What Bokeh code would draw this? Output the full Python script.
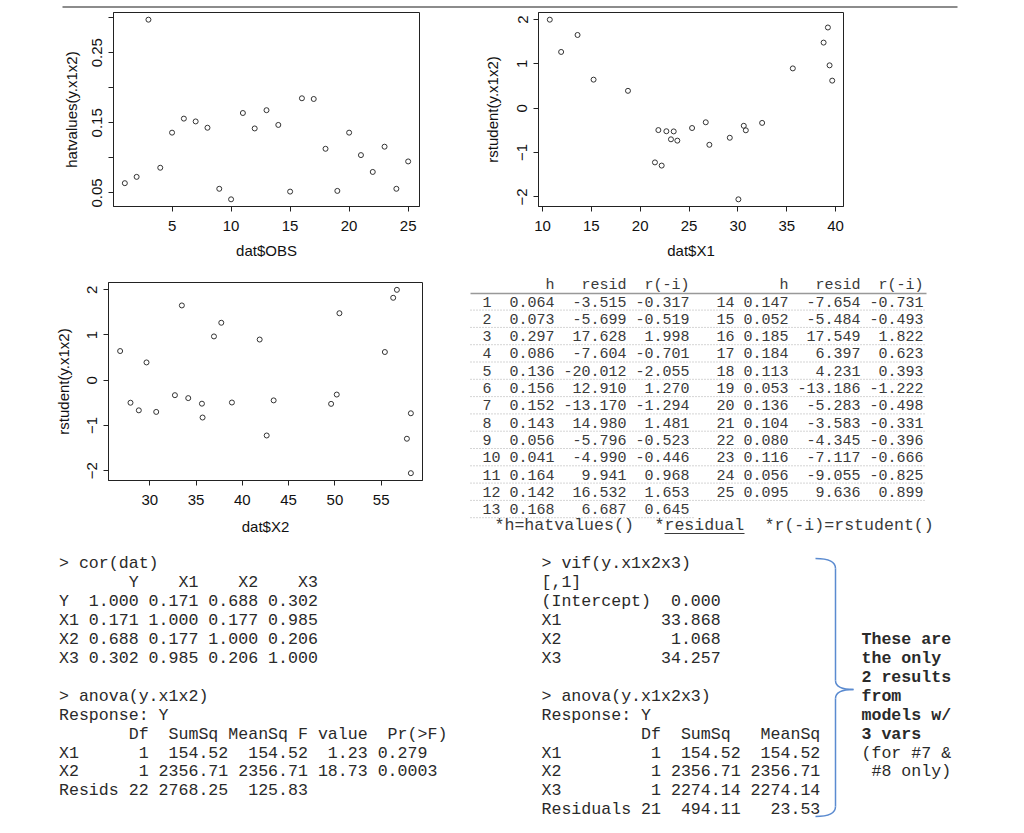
from bokeh.plotting import figure
from bokeh.layouts import column, row
from bokeh.models import Range1d, FixedTicker
from bokeh.core.properties import value
from bokeh.embed import file_html
from bokeh.resources import INLINE

# ---------------- data ----------------
obs = list(range(1, 26))
hat = [0.064, 0.073, 0.297, 0.086, 0.136, 0.156, 0.152, 0.143, 0.056, 0.041, 0.164, 0.142, 0.168,
       0.147, 0.052, 0.185, 0.184, 0.113, 0.053, 0.136, 0.104, 0.080, 0.116, 0.056, 0.095]
resid = [-3.515, -5.699, 17.628, -7.604, -20.012, 12.910, -13.170, 14.980, -5.796, -4.990, 9.941, 16.532, 6.687,
         -7.654, -5.484, 17.549, 6.397, 4.231, -13.186, -5.283, -3.583, -4.345, -7.117, -9.055, 9.636]
rstud = [-0.317, -0.519, 1.998, -0.701, -2.055, 1.270, -1.294, 1.481, -0.523, -0.446, 0.968, 1.653, 0.645,
         -0.731, -0.493, 1.822, 0.623, 0.393, -1.222, -0.498, -0.331, -0.396, -0.666, -0.825, 0.899]
x1 = [26.71, 22.68, 10.75, 23.15, 30.05, 11.91, 22.20, 38.77, 23.43, 25.31, 39.38, 13.59, 15.23,
      23.80, 21.86, 39.21, 39.65, 18.75, 21.51, 30.81, 32.48, 30.60, 29.17, 27.08, 35.62]
x2 = [50.20, 35.63, 56.70, 30.69, 58.21, 37.72, 57.78, 50.49, 49.59, 43.38, 36.93, 33.46, 26.79,
      58.21, 38.87, 56.30, 55.40, 29.64, 42.63, 27.91, 32.71, 34.15, 28.81, 35.70, 41.87]

cor_names = ["Y", "X1", "X2", "X3"]
cor_vals = [[1.000, 0.171, 0.688, 0.302],
            [0.171, 1.000, 0.177, 0.985],
            [0.688, 0.177, 1.000, 0.206],
            [0.302, 0.985, 0.206, 1.000]]

vif_names = ["(Intercept)", "X1", "X2", "X3"]
vif_vals = [0.000, 33.868, 1.068, 34.257]

a1_terms = ["X1", "X2", "Resids"]
a1_df = [1, 1, 22]
a1_ss = [154.52, 2356.71, 2768.25]
a1_ms = [154.52, 2356.71, 125.83]
a1_f = [1.23, 18.73, None]
a1_p = ["0.279", "0.0003", None]

a2_terms = ["X1", "X2", "X3", "Residuals"]
a2_df = [1, 1, 1, 21]
a2_ss = [154.52, 2356.71, 2274.14, 494.11]
a2_ms = [154.52, 2356.71, 2274.14, 23.53]

brace_bold = ["These are", "the only", "2 results", "from", "models w/", "3 vars"]
brace_norm = ["(for #7 &", " #8 only)"]

SANS = "Liberation Sans"
MONO = "Liberation Mono"


def no_align(p):
    if "frame_align" in p.properties():
        p.frame_align = False


def rrange(v):
    lo, hi = min(v), max(v)
    d = (hi - lo) * 0.04
    return lo - d, hi + d


def scatter_fig(x, y, xticks, yticks, ylab_over, xlabel, ylabel, fw, fh, bl, br, bt, bb,
                x_ls, x_as, y_ls, y_as):
    xr = rrange(x)
    yr = rrange(y)
    p = figure(frame_width=fw, frame_height=fh, min_border_left=bl, min_border_right=br,
               min_border_top=bt, min_border_bottom=bb,
               x_range=Range1d(*xr), y_range=Range1d(*yr),
               output_backend="svg", toolbar_location=None)
    no_align(p)
    p.xgrid.visible = False
    p.ygrid.visible = False
    p.outline_line_color = "#222222"
    p.outline_line_width = 1
    p.background_fill_color = "white"
    p.border_fill_color = "white"
    p.scatter(x, y, marker="circle", size=5, fill_color=None, line_color="#333333", line_width=1)
    p.xaxis.ticker = FixedTicker(ticks=xticks)
    p.yaxis.ticker = FixedTicker(ticks=yticks)
    if ylab_over:
        p.yaxis.major_label_overrides = ylab_over
    for ax in (p.xaxis[0], p.yaxis[0]):
        ax.minor_tick_line_color = None
        ax.major_tick_in = 0
        ax.major_tick_out = 5
        ax.axis_line_color = "#222222"
        ax.major_tick_line_color = "#222222"
        ax.major_label_text_font = SANS
        ax.major_label_text_font_size = "15px"
        ax.major_label_text_color = "#111111"
        ax.axis_label_text_font = SANS
        ax.axis_label_text_font_size = "15px"
        ax.axis_label_text_font_style = "normal"
        ax.axis_label_text_color = "#111111"
    p.xaxis.axis_label = xlabel
    p.yaxis.axis_label = ylabel
    p.xaxis.major_label_standoff = x_ls
    p.xaxis.axis_label_standoff = x_as
    p.yaxis.major_label_standoff = y_ls
    p.yaxis.axis_label_standoff = y_as
    p.yaxis.major_label_orientation = "vertical"
    return p


hat_ticks = [0.05, 0.10, 0.15, 0.20, 0.25, 0.30]
hat_labels = {0.05: "0.05", 0.10: "", 0.15: "0.15", 0.20: "", 0.25: "0.25", 0.30: ""}
r_ticks = [-2, -1, 0, 1, 2]

TOP_STRIP = 8
f1 = scatter_fig(obs, hat, [5, 10, 15, 20, 25], hat_ticks, hat_labels, "dat$OBS", "hatvalues(y.x1x2)",
                 306, 194, 113, 36, 12 - TOP_STRIP, 58, 9, 8, 6, 10)
f2 = scatter_fig(x1, rstud, [10, 15, 20, 25, 30, 35, 40], r_ticks, None, "dat$X1", "rstudent(y.x1x2)",
                 305, 194, 83, 181, 12 - TOP_STRIP, 58, 9, 8, 6, 14)
f3 = scatter_fig(x2, rstud, [30, 35, 40, 45, 50, 55], r_ticks, None, "dat$X2", "rstudent(y.x1x2)",
                 314, 198, 108, 33, 18, 60, 9, 10, 6, 13)


def text_fig(w, h, x0, x1_, y0, y1_):
    p = figure(width=w, height=h, x_range=Range1d(x0, x1_), y_range=Range1d(y1_, y0),
               min_border=0, x_axis_location=None, y_axis_location=None,
               output_backend="svg", toolbar_location=None)
    no_align(p)
    p.xgrid.visible = False
    p.ygrid.visible = False
    p.outline_line_color = None
    p.background_fill_color = "white"
    p.border_fill_color = "white"
    return p


def tx(p, xs, ys, txt, align, size, font=MONO, color="#333333", style="normal"):
    p.text(x=xs, y=ys, text=txt, text_align=align, text_baseline="middle",
           text_font=value(font), text_font_size=size, text_color=color, text_font_style=style)


# ---------------- top rule (page header remnant) ----------------
fs = text_fig(1024, TOP_STRIP, 0, 1024, 0, TOP_STRIP)
fs.segment(x0=[62], y0=[2.5], x1=[957], y1=[2.5], line_color="#666666", line_width=1.5)

# ---------------- table (middle right) ----------------
ft = text_fig(569, 276, 455, 1024, 264, 540)
TF = "15px"
TC = "#3a3a3a"
row_y0, row_dy = 301.0, 17.3
left_cols = dict(idx=482, h=554, res=626, r=689)
right_cols = dict(idx=716, h=788, res=860, r=923)

for cols in (left_cols, right_cols):
    tx(ft, [cols["h"], cols["res"], cols["r"]], [285, 285, 285], ["h", "resid", "r(-i)"], "right", TF, color=TC)

halves = [(list(range(0, 13)), left_cols), (list(range(13, 25)), right_cols)]
for idxs, cols in halves:
    ys = [row_y0 + row_dy * k for k in range(len(idxs))]
    tx(ft, [cols["idx"]] * len(idxs), ys, [str(obs[i]) for i in idxs], "left", TF, color=TC)
    tx(ft, [cols["h"]] * len(idxs), ys, [f"{hat[i]:.3f}" for i in idxs], "right", TF, color=TC)
    tx(ft, [cols["res"]] * len(idxs), ys, [f"{resid[i]:.3f}" for i in idxs], "right", TF, color=TC)
    tx(ft, [cols["r"]] * len(idxs), ys, [f"{rstud[i]:.3f}" for i in idxs], "right", TF, color=TC)

ft.segment(x0=[470], y0=[293], x1=[926], y1=[293], line_color="#999999", line_width=1.5)
dot_y = [row_y0 + row_dy * k + 8.6 for k in range(13)]
dot_x1 = [926] * 12 + [693]
ft.segment(x0=[470] * 13, y0=dot_y, x1=dot_x1, y1=dot_y, line_color="#aaaaaa", line_width=1, line_dash="1 2")

FF = "16.6px"
foot_y = 525
tx(ft, [494, 654, 764], [foot_y] * 3, ["*h=hatvalues()", "*residual", "*r(-i)=rstudent()"], "left", FF, color=TC)
ft.segment(x0=[664], y0=[533], x1=[744], y1=[533], line_color=TC, line_width=1)

# ---------------- bottom text ----------------
fb = text_fig(1024, 293, 0, 1024, 540, 833)
BF = "16.6px"
BC = "#2a2a2a"
LY0, LDY = 563.0, 18.95

left_lines = ["> cor(dat)", "  " + "".join(f"{n:>6}" for n in cor_names)]
for n, vals in zip(cor_names, cor_vals):
    left_lines.append(f"{n:<2}" + "".join(f"{v:>6.3f}" for v in vals))
left_lines.append("")
left_lines += ["> anova(y.x1x2)", "Response: Y", "       Df  SumSq MeanSq F value  Pr(>F)"]
for t, d, s, m, fv, pv in zip(a1_terms, a1_df, a1_ss, a1_ms, a1_f, a1_p):
    line = f"{t:<6}{d:>3}{s:>8.2f}{m:>8.2f}"
    if fv is not None:
        line += f"{fv:>6.2f} {pv}"
    left_lines.append(line)

right_lines = ["> vif(y.x1x2x3)", "[,1]"]
for n, v in zip(vif_names, vif_vals):
    right_lines.append(f"{n:<11}{v:>7.3f}")
right_lines.append("")
right_lines += ["> anova(y.x1x2x3)", "Response: Y", "          Df  SumSq   MeanSq"]
for t, d, s, m in zip(a2_terms, a2_df, a2_ss, a2_ms):
    right_lines.append(f"{t:<9}{d:>3}{s:>8.2f}{m:>8.2f}")


def put_lines(p, x, lines, start=0, style="normal"):
    xs, ys, ts = [], [], []
    for k, ln in enumerate(lines):
        if ln.strip() == "":
            continue
        xs.append(x)
        ys.append(LY0 + LDY * (start + k))
        ts.append(ln.replace(" ", "\u00a0"))
    tx(p, xs, ys, ts, "left", BF, color=BC, style=style)


put_lines(fb, 58.5, left_lines)
put_lines(fb, 541, right_lines)
put_lines(fb, 861, brace_bold, start=4, style="bold")
put_lines(fb, 861, brace_norm, start=10)

BRC = "#5b8bd0"
fb.quadratic(x0=[815, 835, 853, 835], y0=[558, 680, 689, 806],
             x1=[835, 853, 835, 815], y1=[568, 689, 698, 816],
             cx=[835, 835, 835, 835], cy=[558, 689, 689, 816], line_color=BRC, line_width=1.5)
fb.segment(x0=[835, 835], y0=[568, 698], x1=[835, 835], y1=[680, 806], line_color=BRC, line_width=1.5)

layout = column(fs, row(f1, f2), row(f3, ft), fb)
open("out.html", "w").write(file_html(layout, INLINE))
